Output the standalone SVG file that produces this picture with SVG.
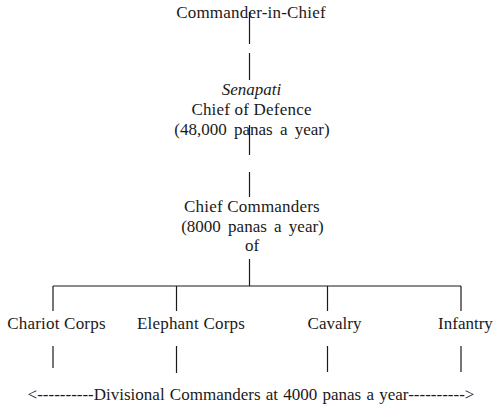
<svg xmlns="http://www.w3.org/2000/svg" width="500" height="408" viewBox="0 0 500 408" font-family="Liberation Serif">
<style>
svg text, text { font-family: "Liberation Serif", "Times New Roman", serif !important; font-size: 17px; fill: #1a1a1a; text-anchor: middle; }
.w { word-spacing: 3px; }
.ls { letter-spacing: 0.2px; }
</style>
<rect width="500" height="408" fill="#ffffff"/>
<g id="connectors" stroke="#1a1a1a" stroke-width="1.2">
<line x1="249.5" y1="12" x2="249.5" y2="44"/>
<line x1="249.5" y1="53" x2="249.5" y2="80"/>
<line x1="249.5" y1="125" x2="249.5" y2="155"/>
<line x1="249.5" y1="172" x2="249.5" y2="197"/>
<line x1="249.5" y1="259" x2="249.5" y2="286"/>
<line x1="53" y1="286" x2="461" y2="286"/>
<line x1="53" y1="286" x2="53" y2="311"/>
<line x1="176.5" y1="286" x2="176.5" y2="311"/>
<line x1="327.5" y1="286" x2="327.5" y2="311"/>
<line x1="461" y1="286" x2="461" y2="311"/>
<line x1="53" y1="346" x2="53" y2="368"/>
<line x1="176.5" y1="346" x2="176.5" y2="373"/>
<line x1="327.5" y1="346" x2="327.5" y2="372"/>
<line x1="461" y1="346" x2="461" y2="372"/>
</g>
<g id="commander-in-chief"><text class="ls" x="251" y="18">Commander-in-Chief</text></g>
<g id="senapati">
<text x="251.5" y="95" font-style="italic">Senapati</text>
<text class="ls" x="251.5" y="115">Chief of Defence</text>
<text class="w" x="252" y="135">(48,000 panas a year)</text>
</g>
<g id="chief-commanders">
<text class="ls" x="252" y="212">Chief Commanders</text>
<text class="w" x="252.5" y="232">(8000 panas a year)</text>
<text x="252" y="251">of</text>
</g>
<g id="chariot"><text class="ls" x="56.5" y="329">Chariot Corps</text></g>
<g id="elephant"><text class="ls" x="191" y="329">Elephant Corps</text></g>
<g id="cavalry"><text x="334.5" y="329">Cavalry</text></g>
<g id="infantry"><text x="465.5" y="329">Infantry</text></g>
<g id="divisional"><text x="251" y="400" word-spacing="1">&lt;----------Divisional Commanders at 4000 panas a year----------&gt;</text></g>
</svg>
